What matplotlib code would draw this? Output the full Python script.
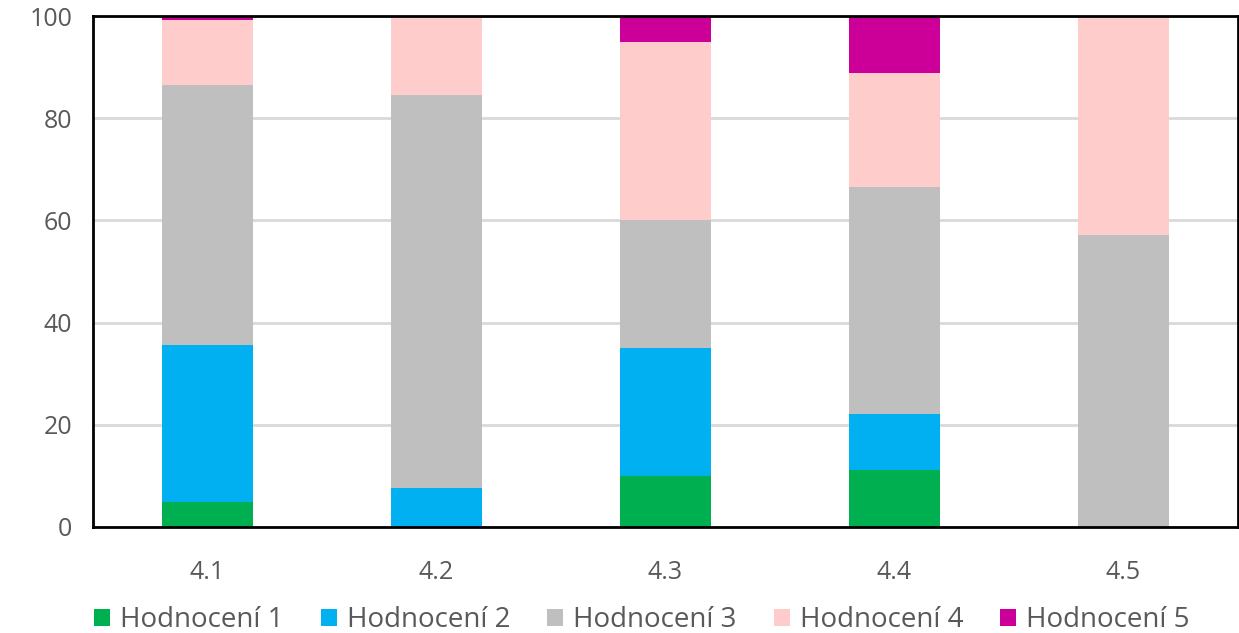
import numpy as np
import matplotlib
matplotlib.use("Agg")
import matplotlib.pyplot as plt

categories = ["4.1", "4.2", "4.3", "4.4", "4.5"]
series_names = ["Hodnocení 1", "Hodnocení 2", "Hodnocení 3", "Hodnocení 4", "Hodnocení 5"]
h1 = [4.8, 0, 10.0, 11.1, 0]
h2 = [30.8, 7.7, 25.0, 11.1, 0]
h3 = [50.8, 76.9, 25.0, 44.4, 57.1]
h4 = [12.9, 15.4, 35.0, 22.2, 42.9]
h5 = [0.7, 0, 5.0, 11.2, 0]
colors = ["#00b050", "#00b0f0", "#bfbfbf", "#ffcccc", "#cc0099"]

plt.rcParams["font.family"] = ["Open Sans", "DejaVu Sans"]

fig = plt.figure(figsize=(12.39, 6.33), dpi=100)
ax = fig.add_axes([93 / 1239, 1 - 527 / 633, 1145 / 1239, 511 / 633])

x = np.arange(len(categories))
bottom = np.zeros(len(categories))
for name, vals, c in zip(series_names, [h1, h2, h3, h4, h5], colors):
    ax.bar(x, vals, 0.4, bottom=bottom, color=c, label=name, zorder=2)
    bottom += np.array(vals)

ax.set_xlim(-0.5, len(categories) - 0.5)
ax.set_ylim(0, 100)
ax.set_yticks(range(0, 101, 20))
ax.set_xticks(x)
ax.set_xticklabels(categories)
ax.yaxis.grid(True, color="#d9d9d9", linewidth=2, zorder=0)
ax.tick_params(length=0, labelsize=18, colors="#595959")
ax.tick_params(axis="y", pad=15)
ax.tick_params(axis="x", pad=24)
for s in ax.spines.values():
    s.set_color("black")
    s.set_linewidth(2)
    s.set_zorder(3)

fig.legend(*ax.get_legend_handles_labels(), loc="center",
           bbox_to_anchor=(642 / 1239, 1 - 620 / 633), ncol=5, frameon=False,
           fontsize=20, labelcolor="#595959", handlelength=0.58, handleheight=0.58,
           handletextpad=0.36, columnspacing=1.33, borderpad=0)

fig.savefig("out.png", dpi=100)
